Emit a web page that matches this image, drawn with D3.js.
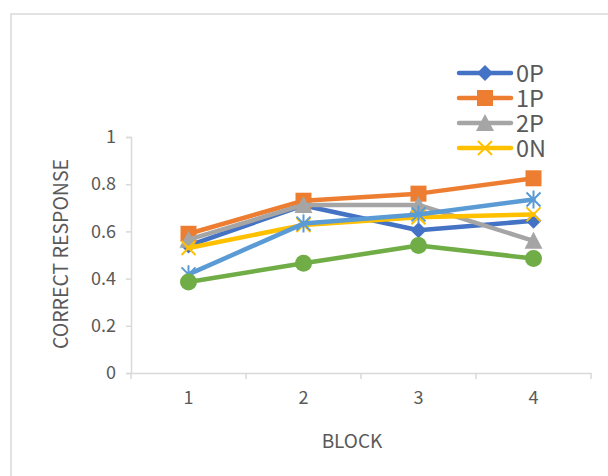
<!DOCTYPE html>
<html>
<head>
<meta charset="utf-8">
<script src="https://cdn.jsdelivr.net/npm/d3@7/dist/d3.min.js"></script>
<style>
  html, body { margin: 0; padding: 0; background: #fff; }
  svg { display: block; }
  text { font-family: "Noto Sans CJK SC", "Noto Sans", sans-serif; fill: #595959; }
</style>
</head>
<body>
<svg id="chart" width="608" height="476"></svg>
<script>
// Blocks along the x axis
const blocks = ["1", "2", "3", "4"];
// Proportion of correct responses per block, one array per condition
const s0P = [0.54, 0.71, 0.605, 0.645];
const s1P = [0.59, 0.73, 0.76, 0.825];
const s2P = [0.565, 0.712, 0.712, 0.56];
const s0N = [0.53, 0.627, 0.66, 0.672];
const s1N = [0.418, 0.633, 0.672, 0.735];
const s2N = [0.386, 0.465, 0.54, 0.485];
const seriesNames = ["0P", "1P", "2P", "0N", "1N", "2N"];
const legendNames = ["0P", "1P", "2P", "0N"];
const yTicks = [0, 0.2, 0.4, 0.6, 0.8, 1];

const seriesValues = [s0P, s1P, s2P, s0N, s1N, s2N];
const colors = ["#4472C4", "#ED7D31", "#A5A5A5", "#FFC000", "#5B9BD5", "#70AD47"];
const markers = ["diamond", "square", "triangle", "cross", "asterisk", "circle"];

const svg = d3.select("#chart");

// chart area frame
svg.append("path")
  .attr("d", "M11,476 V14 H608")
  .attr("fill", "none")
  .attr("stroke", "#d9d9d9")
  .attr("stroke-width", 1.5);

const x = d3.scaleBand().domain(blocks).range([131, 591]);
const y = d3.scaleLinear().domain([0, 1]).range([373, 137]);

// y axis
const yAxis = svg.append("g").attr("transform", "translate(131,0)")
  .call(d3.axisLeft(y).tickValues(yTicks).tickFormat(d3.format("~g")).tickSize(5).tickPadding(10));
yAxis.select(".domain").attr("stroke", "#d9d9d9").attr("stroke-width", 1.5);
yAxis.selectAll(".tick line").attr("stroke", "#d9d9d9").attr("stroke-width", 1.5);
yAxis.selectAll(".tick text").attr("font-size", 18).style("fill", "#595959");

// x axis with tick marks on category boundaries
const xAxis = svg.append("g").attr("transform", "translate(0,373)")
  .call(d3.axisBottom(x).tickSize(0).tickPadding(18));
xAxis.select(".domain").attr("stroke", "#d9d9d9").attr("stroke-width", 1.5);
xAxis.selectAll(".tick text").attr("font-size", 18).style("fill", "#595959");
const bounds = blocks.map(b => x(b)).concat([x.range()[1]]);
xAxis.selectAll(".bound").data(bounds).join("line")
  .attr("class", "bound")
  .attr("x1", d => d).attr("x2", d => d)
  .attr("y1", 0).attr("y2", 6)
  .attr("stroke", "#d9d9d9").attr("stroke-width", 1.5);

// axis titles
svg.append("text")
  .attr("transform", "translate(68,254) rotate(-90)")
  .attr("text-anchor", "middle")
  .attr("font-size", 19.5)
  .text("CORRECT RESPONSE");
svg.append("text")
  .attr("x", 352).attr("y", 448)
  .attr("text-anchor", "middle")
  .attr("font-size", 19)
  .text("BLOCK");

function drawMarker(g, type, color, cx, cy) {
  if (type === "diamond") {
    g.append("path").attr("d", `M${cx},${cy - 8}L${cx + 8},${cy}L${cx},${cy + 8}L${cx - 8},${cy}Z`).attr("fill", color);
  } else if (type === "square") {
    g.append("rect").attr("x", cx - 8).attr("y", cy - 8).attr("width", 16).attr("height", 16).attr("fill", color);
  } else if (type === "triangle") {
    g.append("path").attr("d", `M${cx},${cy - 9}L${cx + 9},${cy + 8}L${cx - 9},${cy + 8}Z`).attr("fill", color);
  } else if (type === "circle") {
    g.append("circle").attr("cx", cx).attr("cy", cy).attr("r", 8.5).attr("fill", color);
  } else if (type === "cross") {
    g.append("path").attr("d", `M${cx - 7},${cy - 7}L${cx + 7},${cy + 7}M${cx - 7},${cy + 7}L${cx + 7},${cy - 7}`)
      .attr("stroke", color).attr("stroke-width", 2).attr("fill", "none");
  } else if (type === "asterisk") {
    g.append("path").attr("d", `M${cx - 7},${cy - 7}L${cx + 7},${cy + 7}M${cx - 7},${cy + 7}L${cx + 7},${cy - 7}M${cx},${cy - 9}L${cx},${cy + 9}`)
      .attr("stroke", color).attr("stroke-width", 2).attr("fill", "none");
  }
}

const line = d3.line()
  .x((d, i) => x(blocks[i]) + x.bandwidth() / 2)
  .y(d => y(d));

seriesValues.forEach((vals, si) => {
  const g = svg.append("g").attr("class", "series").attr("data-name", seriesNames[si]);
  g.append("path")
    .attr("d", line(vals))
    .attr("fill", "none")
    .attr("stroke", colors[si])
    .attr("stroke-width", 4.5)
    .attr("stroke-linejoin", "round")
    .attr("stroke-linecap", "round");
  vals.forEach((v, i) => {
    drawMarker(g, markers[si], colors[si], x(blocks[i]) + x.bandwidth() / 2, y(v));
  });
});

// legend
legendNames.forEach((name, i) => {
  const ly = 73 + i * 25;
  const g = svg.append("g").attr("class", "legend");
  g.append("line")
    .attr("x1", 459).attr("x2", 511).attr("y1", ly).attr("y2", ly)
    .attr("stroke", colors[i]).attr("stroke-width", 4.5).attr("stroke-linecap", "round");
  drawMarker(g, markers[i], colors[i], 485, ly);
  g.append("text")
    .attr("x", 516).attr("y", ly + 8.5)
    .attr("font-size", 23.5)
    .text(name);
});
</script>
</body>
</html>
